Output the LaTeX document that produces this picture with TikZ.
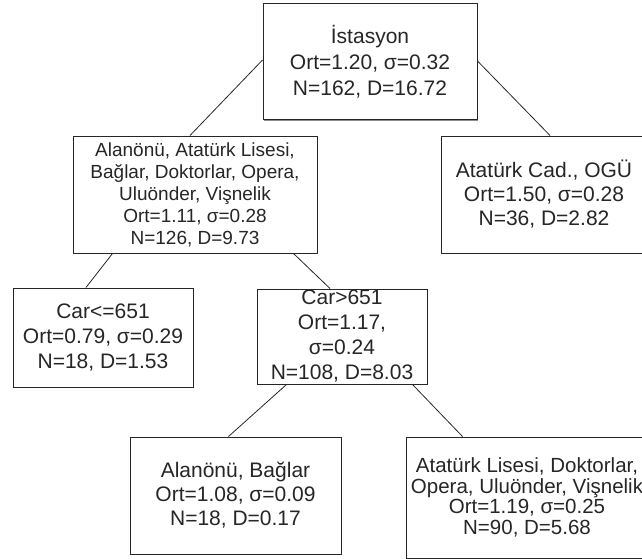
\documentclass[tikz,border=0pt]{standalone}
\usepackage{fontspec}
\setmainfont{Liberation Sans}
\usetikzlibrary{shadows,calc}
\begin{document}
\begin{tikzpicture}[x=1pt,y=-1pt,
  box/.style={draw=black!85, line width=1pt, fill=white, align=center, inner sep=0pt, text=black!85,
     drop shadow={shadow xshift=1.2pt, shadow yshift=-1.2pt, fill=black!45, opacity=1}},
  conn/.style={draw=black!85, line width=0.8pt}]
\useasboundingbox (0,0) rectangle (642,559);
\clip (0,0) rectangle (642,559);
\node[box, minimum width=214pt, minimum height=116pt, font=\fontsize{21}{26}\selectfont] (root) at (370,62)
  {İstasyon\\Ort=1.20, σ=0.32\\N=162, D=16.72};
\node[box, minimum width=244pt, minimum height=117pt, font=\fontsize{19}{22}\selectfont] (b2) at (195,194.5)
  {Alanönü, Atatürk Lisesi,\\Bağlar, Doktorlar, Opera,\\Uluönder, Vişnelik\\Ort=1.11, σ=0.28\\N=126, D=9.73};
\node[box, minimum width=206pt, minimum height=117pt, font=\fontsize{21}{24}\selectfont] (b3) at (544,194.5)
  {Atatürk Cad., OGÜ\\Ort=1.50, σ=0.28\\N=36, D=2.82};
\node[box, minimum width=180pt, minimum height=99pt, font=\fontsize{21}{25}\selectfont] (b4) at (103,337.5)
  {Car<=651\\Ort=0.79, σ=0.29\\N=18, D=1.53};
\node[box, minimum width=170pt, minimum height=95pt, font=\fontsize{21}{25}\selectfont] (b5) at (342,336.5)
  {Car>651\\Ort=1.17,\\σ=0.24\\N=108, D=8.03};
\node[box, minimum width=211pt, minimum height=117pt, font=\fontsize{21}{24}\selectfont] (b6) at (235.5,495.5)
  {Alanönü, Bağlar\\Ort=1.08, σ=0.09\\N=18, D=0.17};
\node[box, minimum width=242pt, minimum height=121pt, font=\fontsize{20.5}{20.5}\selectfont] (b7) at (527,497.5)
  {Atatürk Lisesi, Doktorlar,\\Opera, Uluönder, Vişnelik\\Ort=1.19, σ=0.25\\N=90, D=5.68};
\draw[conn] ([yshift=2pt]root.west) -- ([xshift=-5pt]b2.north);
\draw[conn] ([yshift=1pt]root.east) -- ([xshift=6pt]b3.north);
\draw[conn] ([xshift=40pt]b2.south west) -- ([xshift=-17pt]b4.north);
\draw[conn] ([xshift=-24pt]b2.south east) -- ([xshift=-12pt]b5.north);
\draw[conn] ([xshift=30pt]b5.south west) -- ([xshift=-7pt]b6.north);
\draw[conn] ([xshift=-15pt]b5.south east) -- ([xshift=57pt]b7.north west);
\end{tikzpicture}
\end{document}
